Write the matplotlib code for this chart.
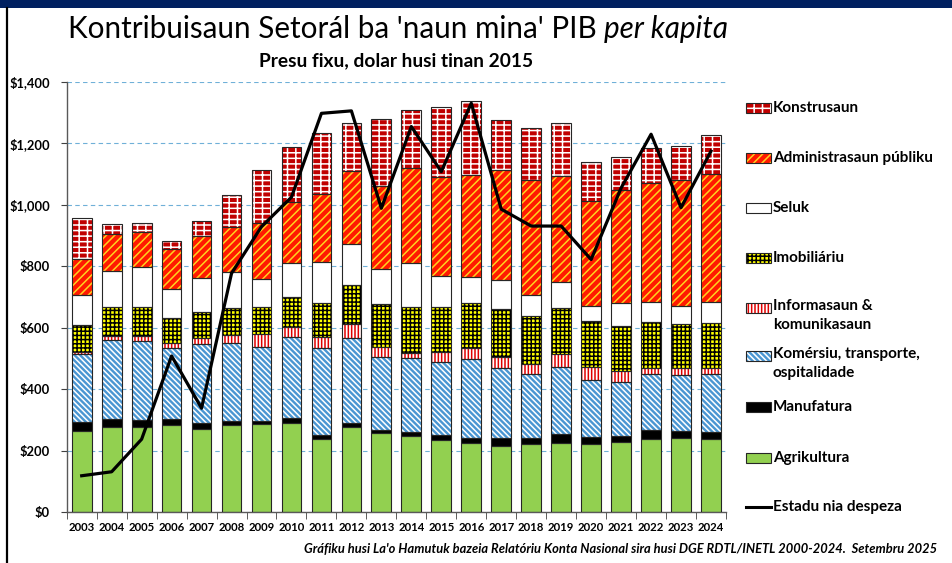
import numpy as np
import matplotlib
matplotlib.use("Agg")
import matplotlib.pyplot as plt
from matplotlib.patches import Rectangle
from matplotlib.lines import Line2D

plt.rcParams["font.family"] = ["Lato", "DejaVu Sans"]
plt.rcParams["hatch.linewidth"] = 1.1

# Data (USD per capita, constant 2015 prices)
years = list(range(2003, 2025))
agrikultura = [265, 276, 276, 282, 271, 282, 287, 291, 238, 276, 258, 247, 234, 226, 216, 220, 224, 220, 227, 238, 242, 238]
manufatura = [29, 26, 24, 20, 20, 15, 10, 14, 13, 13, 9, 12, 17, 14, 24, 22, 30, 25, 20, 29, 22, 23]
komersiu = [220, 258, 258, 233, 255, 254, 241, 264, 282, 279, 237, 241, 238, 257, 228, 206, 217, 185, 177, 181, 182, 187]
informasaun = [8, 13, 15, 16, 19, 25, 42, 32, 38, 44, 34, 17, 33, 36, 36, 33, 43, 43, 36, 22, 22, 20]
imobiliariu = [87, 93, 95, 80, 87, 87, 89, 98, 110, 127, 139, 151, 146, 148, 156, 157, 151, 149, 146, 150, 143, 148]
seluk = [97, 120, 129, 95, 110, 119, 90, 113, 134, 133, 113, 144, 100, 85, 95, 69, 83, 50, 74, 65, 61, 69]
administrasaun = [117, 119, 116, 130, 138, 146, 181, 196, 220, 238, 271, 307, 324, 331, 359, 374, 346, 342, 368, 387, 409, 416]
konstrusaun = [133, 33, 29, 25, 48, 104, 174, 181, 200, 158, 218, 190, 228, 241, 162, 170, 174, 127, 107, 112, 112, 127]
estadu_despeza = [118, 131, 237, 508, 338, 777, 929, 1025, 1298, 1306, 989, 1255, 1108, 1331, 986, 931, 931, 822, 1055, 1230, 991, 1175]

# bottom-to-top stacking order: (values, label, face, hatch, hatch colour)
series = [
    (agrikultura, "Agrikultura", "#92d050", None, "#92d050"),
    (manufatura, "Manufatura", "#000000", None, "#000000"),
    (komersiu, "Komérsiu, transporte,\nospitalidade", "#4a96d2", "\\\\\\\\\\\\", "white"),
    (informasaun, "Informasaun &\nkomunikasaun", "white", "|||||", "#e00000"),
    (imobiliariu, "Imobiliáriu", "#ffff00", "++++", "#000000"),
    (seluk, "Seluk", "white", None, "white"),
    (administrasaun, "Administrasaun públiku", "#ff1a00", "////", "#ffd21f"),
    (konstrusaun, "Konstrusaun", "#c00000", "---||", "white"),
]

W, H = 953, 563
fig = plt.figure(figsize=(W / 100, H / 100), dpi=100)
ax = fig.add_axes([66.7 / W, 51 / H, (726 - 66.7) / W, 430 / H])

x = np.arange(len(years))
bottom = np.zeros(len(years))
for vals, label, face, hatch, hcol in series:
    vals = np.array(vals, dtype=float)
    ax.bar(x, vals, 0.66, bottom=bottom, color=face, edgecolor=hcol,
           hatch=hatch, linewidth=0, zorder=2)
    ax.bar(x, vals, 0.66, bottom=bottom, fill=False, edgecolor="#262626",
           linewidth=0.8, zorder=3)
    bottom += vals

ax.plot(x, estadu_despeza, color="black", lw=2.3, zorder=4)

ax.set_xlim(-0.5, len(years) - 0.5)
ax.set_ylim(0, 1400)
ax.set_yticks(np.arange(0, 1401, 200))
ax.set_yticklabels([f"${v:,}" for v in range(0, 1401, 200)], fontweight="bold", fontsize=9.3)
ax.set_xticks(x)
ax.set_xticklabels([str(y) for y in years], fontweight="bold", fontsize=8.2)
ax.set_xticks(np.arange(-0.5, len(years), 1), minor=True)
ax.tick_params(axis="x", which="major", length=0, pad=7)
ax.tick_params(axis="x", which="minor", length=5, direction="out", color="#404040")
ax.tick_params(axis="y", length=4, color="#404040", pad=8)
for s in ["top", "right"]:
    ax.spines[s].set_visible(False)
for s in ["left", "bottom"]:
    ax.spines[s].set_color("#595959")
    ax.spines[s].set_linewidth(1.0)
ax.yaxis.grid(True, linestyle=(0, (4, 3)), color="#6fb0d8", lw=0.8, zorder=0)
ax.set_axisbelow(True)

# Titles
cx = (66.7 + 726) / 2 / W
t1 = fig.text(cx - 0.063, 1 - 29 / H, "Kontribuisaun Setorál ba 'naun mina' PIB ",
              fontsize=21.3, ha="center", va="center")
ax.annotate("per kapita", xy=(1, 0), xycoords=t1, va="bottom", ha="left",
            fontsize=21.3, style="italic", annotation_clip=False)
fig.text(cx, 1 - 61 / H, "Presu fixu, dolar husi tinan 2015", fontsize=13.8,
         fontweight="bold", ha="center", va="center")
fig.text(304 / W, 1 - 549 / H,
         "Gráfiku husi La'o Hamutuk bazeia Relatóriu Konta Nasional sira husi DGE RDTL/INETL 2000-2024.  Setembru 2025",
         fontsize=9.3, fontweight="bold", style="italic", ha="left", va="center")

# Manual legend
leg_y = {"Konstrusaun": 108, "Administrasaun públiku": 158, "Seluk": 208, "Imobiliáriu": 258,
         "Informasaun &\nkomunikasaun": 308, "Komérsiu, transporte,\nospitalidade": 356,
         "Manufatura": 407, "Agrikultura": 458}
for vals, label, face, hatch, hcol in series:
    yc = leg_y[label]
    fig.add_artist(Rectangle((746 / W, 1 - (yc + 5) / H), 25 / W, 10 / H, transform=fig.transFigure,
                             facecolor=face, edgecolor=hcol, hatch=hatch, linewidth=0))
    fig.add_artist(Rectangle((746 / W, 1 - (yc + 5) / H), 25 / W, 10 / H, transform=fig.transFigure,
                             fill=False, edgecolor="#262626", linewidth=0.8))
    if "\n" in label:
        fig.text(773 / W, 1 - (yc - 9) / H, label, fontsize=11, fontweight="bold",
                 ha="left", va="top", linespacing=1.45)
    else:
        fig.text(773 / W, 1 - yc / H, label, fontsize=11, fontweight="bold",
                 ha="left", va="center")
fig.add_artist(Line2D([746 / W, 771 / W], [1 - 507 / H] * 2, color="black", lw=2.2,
                      transform=fig.transFigure))
fig.text(773 / W, 1 - 507 / H, "Estadu nia despeza", fontsize=11, fontweight="bold",
         ha="left", va="center")

# frame decorations
fig.add_artist(Rectangle((0, 1 - 8 / H), 1, 8 / H, transform=fig.transFigure,
                         facecolor="#002060", edgecolor="none"))
fig.add_artist(Line2D([7 / W, 7 / W], [0, 1 - 8 / H], color="black", lw=1.6,
                      transform=fig.transFigure))

fig.savefig("out.png", dpi=100)
